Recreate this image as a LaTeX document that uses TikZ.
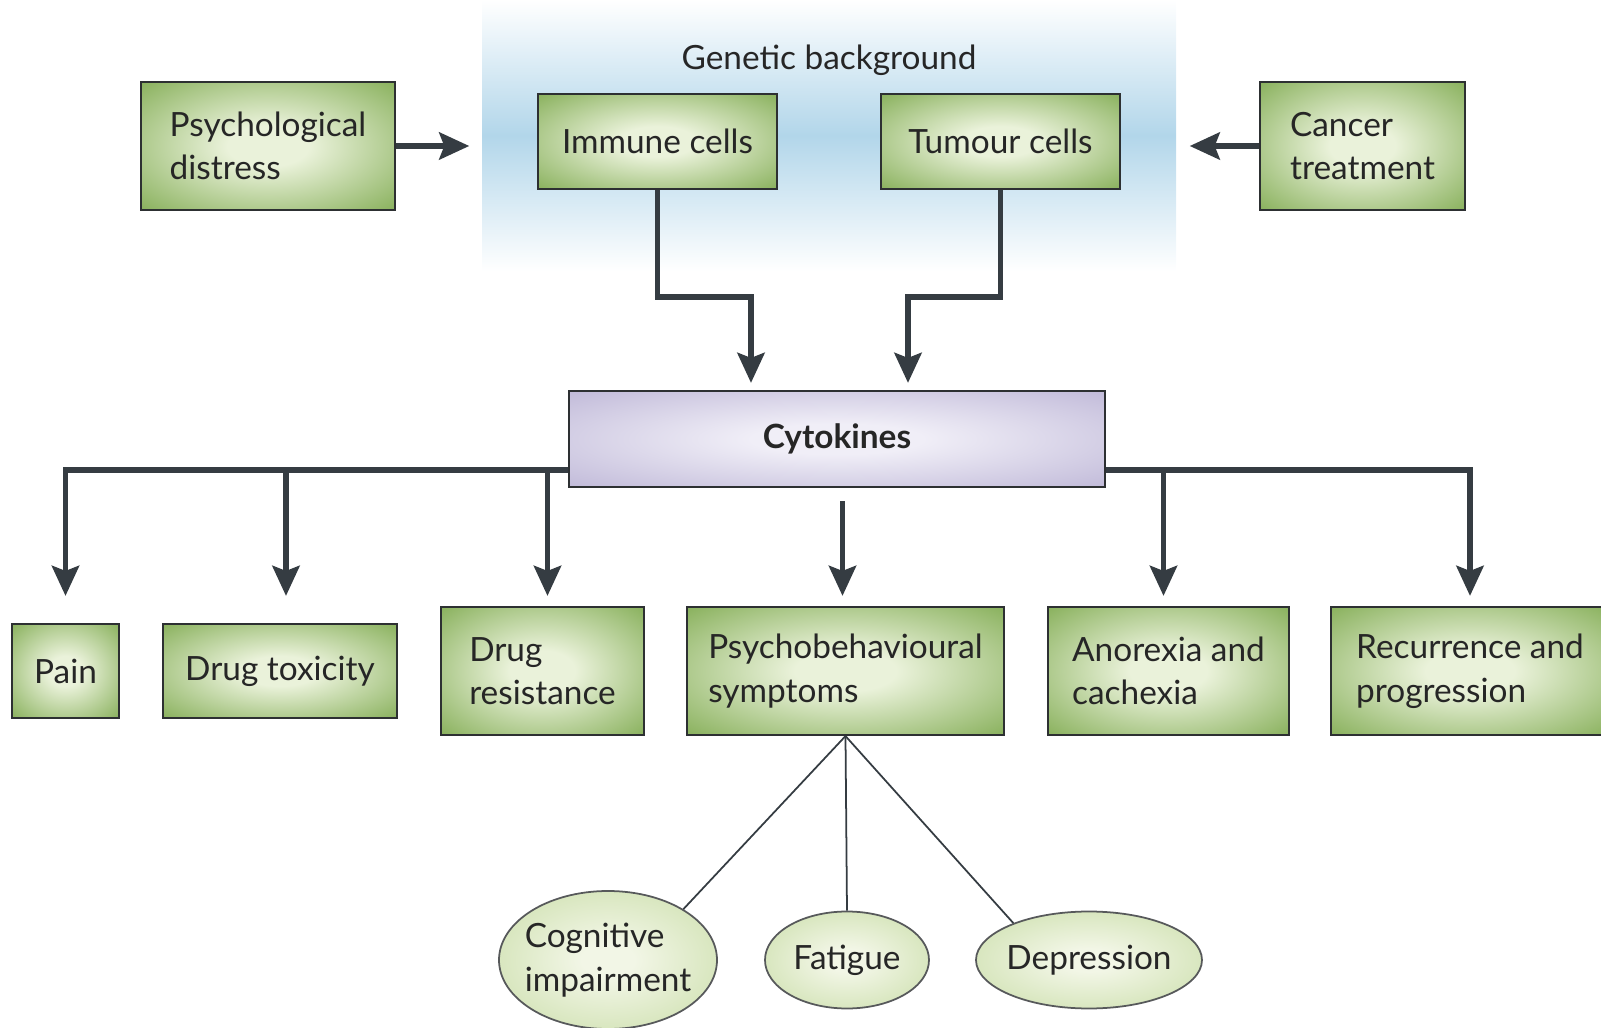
\documentclass[tikz,border=0pt]{standalone}
\usepackage{fontspec}
\setmainfont{Lato}
\usepackage{xcolor}
\usepackage{tikz}
\usetikzlibrary{positioning, arrows.meta, shapes.geometric}

\definecolor{greenout}{RGB}{121,166,72}
\definecolor{greenin}{RGB}{234,242,218}
\definecolor{purpout}{RGB}{182,174,210}
\definecolor{purpin}{RGB}{240,238,247}
\definecolor{leafout}{RGB}{196,218,160}
\definecolor{leafin}{RGB}{242,246,230}
\definecolor{genblue}{RGB}{178,214,234}
\definecolor{linkdark}{RGB}{53,60,66}
\definecolor{boxline}{RGB}{45,48,50}

\pgfdeclareradialshading{greenglow}{\pgfpointorigin}{color(0bp)=(greenin); color(8bp)=(greenin); color(40bp)=(greenout); color(50bp)=(greenout)}
\pgfdeclareradialshading{purpglow}{\pgfpointorigin}{color(0bp)=(purpin); color(8bp)=(purpin); color(42bp)=(purpout); color(50bp)=(purpout)}
\pgfdeclareradialshading{leafglow}{\pgfpointorigin}{color(0bp)=(leafin); color(6bp)=(leafin); color(40bp)=(leafout); color(50bp)=(leafout)}

\begin{document}
\begin{tikzpicture}[
        every node/.style={font=\fontsize{9.5}{12.4}\selectfont, text=black!85},
        greenbox/.style={draw=boxline, line width=0.6pt, shading=greenglow, minimum height=1.28cm, align=left, inner sep=2pt},
        cytobox/.style={draw=boxline, line width=0.6pt, shading=purpglow, minimum width=5.36cm, minimum height=0.96cm, font=\fontsize{9.5}{12.4}\selectfont\bfseries},
        leaf/.style={ellipse, draw=boxline!80, line width=0.5pt, shading=leafglow, align=left, inner xsep=-0.08cm, inner ysep=0pt},
        arrow/.style={-{Stealth[length=0.3cm, width=0.27cm, inset=0.05cm]}, line width=1.7pt, draw=linkdark},
        thin/.style={line width=0.5pt, draw=linkdark}
    ]
    \useasboundingbox (0,0) rectangle (16.01,-10.28);

    % Genetic background ----------------------------------
    \node[shading=axis, top color=white, bottom color=white, middle color=genblue,
          minimum width=6.94cm, minimum height=2.71cm, inner sep=0pt] (gene) at (8.29,-1.355) {};
    \node[below=0.33cm of gene.north, anchor=north] (genetext) {Genetic background};

    % Nodes -----------------------------------------------
    \node[greenbox, minimum width=2.54cm] (psych) at (2.68,-1.46) {Psychological\\distress};
    \node[greenbox, minimum width=2.39cm, minimum height=0.95cm] (immune) at (6.575,-1.415) {Immune cells};
    \node[greenbox, minimum width=2.39cm, minimum height=0.95cm] (tumour) at (10.005,-1.415) {Tumour cells};
    \node[greenbox, minimum width=2.05cm] (cancer) at (13.625,-1.46) {Cancer\\treatment};

    \node[cytobox] (cyto) at (8.37,-4.39) {Cytokines};

    \node[greenbox, minimum width=1.07cm, minimum height=0.94cm] (pain) at (0.655,-6.71) {Pain};
    \node[greenbox, minimum width=2.34cm, minimum height=0.94cm] (tox) at (2.80,-6.71) {Drug toxicity};
    \node[greenbox, minimum width=2.03cm] (resist) at (5.425,-6.71) {Drug\\resistance};
    \node[greenbox, minimum width=3.17cm] (psyb) at (8.455,-6.71) {Psychobehavioural\\symptoms};
    \node[greenbox, minimum width=2.41cm] (anor) at (11.685,-6.71) {Anorexia and\\cachexia};
    \node[greenbox, minimum width=2.78cm] (recur) at (14.70,-6.71) {Recurrence and\\progression};

    \node[leaf, minimum width=2.18cm, minimum height=1.38cm] (cog) at (6.08,-9.60) {Cognitive\\impairment};
    \node[leaf, minimum width=1.64cm, minimum height=0.97cm] (fat) at (8.47,-9.60) {Fatigue};
    \node[leaf, minimum width=2.26cm, minimum height=0.97cm] (dep) at (10.89,-9.60) {Depression};

    % inputs
    \draw[arrow, shorten >=0.12cm] (psych) -- (psych -| gene.west);
    \draw[arrow, shorten >=0.13cm] (cancer) -- (cancer -| gene.east);

    \draw[arrow, shorten >=0.07cm] (immune.south) -- ++(0,-1.07) -| ([xshift=-0.86cm]cyto.north);
    \draw[arrow, shorten >=0.07cm] (tumour.south) -- ++(0,-1.07) -| ([xshift=0.71cm]cyto.north);

    % outputs
    \coordinate (busL) at ([yshift=-0.31cm]cyto.west);
    \coordinate (busR) at ([yshift=-0.31cm]cyto.east);
    \draw[arrow, shorten >=0.27cm] (busL) -| (pain);
    \draw[arrow, shorten >=0.27cm] (busL) -| ([xshift=0.06cm]tox.north);
    \draw[arrow, shorten >=0.10cm] (busL) -| ([xshift=0.05cm]resist.north);
    \draw[arrow, shorten <=0.13cm, shorten >=0.10cm] ([xshift=-0.03cm]psyb.north |- cyto.south) -- ([xshift=-0.03cm]psyb.north);
    \draw[arrow, shorten >=0.10cm] (busR) -| ([xshift=-0.05cm]anor.north);
    \draw[arrow, shorten >=0.10cm] (busR) -| (recur);

    % symptoms
    \draw[thin] (psyb.south) -- (cog.34);
    \draw[thin] (psyb.south) -- (fat.north);
    \draw[thin] (psyb.south) -- (dep.154);
\end{tikzpicture}
\end{document}
